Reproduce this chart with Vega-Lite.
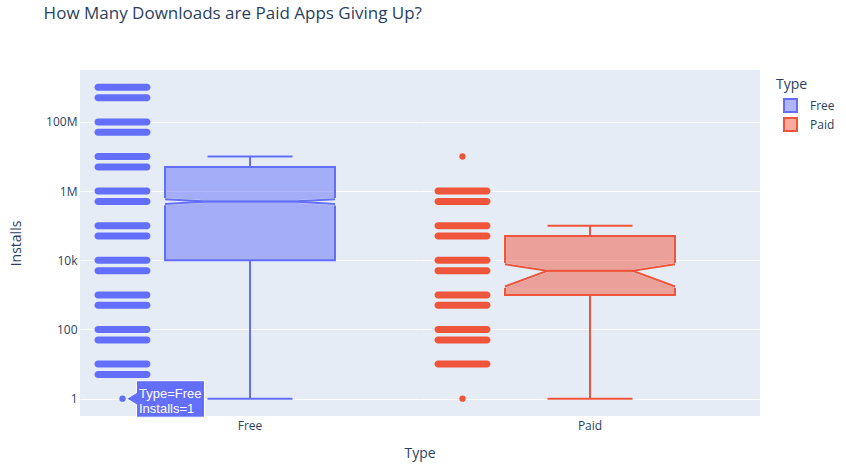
{
  "$schema": "https://vega.github.io/schema/vega-lite/v6.json",
  "padding": {"left": 9, "top": 5, "right": 0, "bottom": 5},
  "background": "white",
  "title": {
    "text": "How Many Downloads are Paid Apps Giving Up?",
    "anchor": "start",
    "frame": "bounds",
    "dx": 34,
    "offset": 47,
    "fontSize": 17,
    "fontWeight": "normal",
    "font": "Open Sans",
    "color": "#2a3f5f"
  },
  "data": {
    "values": [
      {"kind": "strip", "Type": "Free", "Installs": 5},
      {"kind": "strip", "Type": "Free", "Installs": 10},
      {"kind": "strip", "Type": "Free", "Installs": 50},
      {"kind": "strip", "Type": "Free", "Installs": 100},
      {"kind": "strip", "Type": "Free", "Installs": 500},
      {"kind": "strip", "Type": "Free", "Installs": 1000},
      {"kind": "strip", "Type": "Free", "Installs": 5000},
      {"kind": "strip", "Type": "Free", "Installs": 10000},
      {"kind": "strip", "Type": "Free", "Installs": 50000},
      {"kind": "strip", "Type": "Free", "Installs": 100000},
      {"kind": "strip", "Type": "Free", "Installs": 500000},
      {"kind": "strip", "Type": "Free", "Installs": 1000000},
      {"kind": "strip", "Type": "Free", "Installs": 5000000},
      {"kind": "strip", "Type": "Free", "Installs": 10000000},
      {"kind": "strip", "Type": "Free", "Installs": 50000000},
      {"kind": "strip", "Type": "Free", "Installs": 100000000},
      {"kind": "strip", "Type": "Free", "Installs": 500000000},
      {"kind": "strip", "Type": "Free", "Installs": 1000000000},
      {"kind": "strip", "Type": "Paid", "Installs": 10},
      {"kind": "strip", "Type": "Paid", "Installs": 50},
      {"kind": "strip", "Type": "Paid", "Installs": 100},
      {"kind": "strip", "Type": "Paid", "Installs": 500},
      {"kind": "strip", "Type": "Paid", "Installs": 1000},
      {"kind": "strip", "Type": "Paid", "Installs": 5000},
      {"kind": "strip", "Type": "Paid", "Installs": 10000},
      {"kind": "strip", "Type": "Paid", "Installs": 50000},
      {"kind": "strip", "Type": "Paid", "Installs": 100000},
      {"kind": "strip", "Type": "Paid", "Installs": 500000},
      {"kind": "strip", "Type": "Paid", "Installs": 1000000},
      {"kind": "single", "Type": "Free", "Installs": 1},
      {"kind": "single", "Type": "Paid", "Installs": 1},
      {"kind": "single", "Type": "Paid", "Installs": 10000000},
      {"kind": "stats", "Type": "Free", "lower": 1, "q1": 10000, "median": 500000, "q3": 5000000, "upper": 10000000},
      {"kind": "stats", "Type": "Paid", "lower": 1, "q1": 1000, "median": 5000, "q3": 50000, "upper": 100000},
      {"kind": "notch", "Type": "Free", "vertex": "outerL", "low": 422000, "high": 578000},
      {"kind": "notch", "Type": "Free", "vertex": "innerL", "low": 500000, "high": 500000},
      {"kind": "notch", "Type": "Free", "vertex": "innerR", "low": 500000, "high": 500000},
      {"kind": "notch", "Type": "Free", "vertex": "outerR", "low": 422000, "high": 578000},
      {"kind": "notch", "Type": "Paid", "vertex": "outerL", "low": 1750, "high": 7700},
      {"kind": "notch", "Type": "Paid", "vertex": "innerL", "low": 5000, "high": 5000},
      {"kind": "notch", "Type": "Paid", "vertex": "innerR", "low": 5000, "high": 5000},
      {"kind": "notch", "Type": "Paid", "vertex": "outerR", "low": 1750, "high": 7700}
    ]
  },
  "config": {
    "view": {"fill": "#E5ECF6", "stroke": null},
    "font": "Open Sans",
    "axisY": {
      "domain": false, "ticks": false, "grid": true, "gridColor": "#ffffff", "gridWidth": 1,
      "labelPadding": 3, "labelFontSize": 12, "labelColor": "#2a3f5f", "labelFont": "Open Sans",
      "titleFontSize": 14, "titleColor": "#2a3f5f", "titleFontWeight": "normal", "titleFont": "Open Sans",
      "titlePadding": 22
    },
    "legend": {
      "orient": "right", "offset": 8, "padding": 8,
      "symbolType": "square", "symbolSize": 169, "symbolOffset": 7, "symbolStrokeWidth": 2, "symbolOpacity": 1,
      "labelOffset": 12, "rowPadding": 0, "clipHeight": 19, "titlePadding": 4,
      "titleFontSize": 14, "titleFontWeight": "normal", "titleColor": "#2a3f5f", "titleFont": "Open Sans",
      "labelFontSize": 12, "labelColor": "#2a3f5f", "labelFont": "Open Sans"
    }
  },
  "spacing": 0,
  "facet": {
    "column": {
      "field": "Type", "type": "nominal", "title": "Type", "sort": ["Free", "Paid"],
      "header": {
        "labelOrient": "bottom", "titleOrient": "bottom",
        "labelFontSize": 12, "labelColor": "#2a3f5f", "labelFont": "Open Sans", "labelPadding": 1,
        "titleFontSize": 14, "titleColor": "#2a3f5f", "titleFontWeight": "normal", "titleFont": "Open Sans",
        "titlePadding": 5
      }
    }
  },
  "spec": {
    "width": 340,
    "height": 346,
    "layer": [
      {
        "transform": [{"filter": "datum.kind === 'stats'"}],
        "mark": {"type": "rect", "strokeWidth": 2},
        "encoding": {
          "x": {"datum": "outerL", "type": "nominal", "axis": null,
                "scale": {"type": "point", "domain": ["strip", "outerL", "innerL", "center", "innerR", "outerR", "pad"], "padding": 1.0816}},
          "x2": {"datum": "outerR"},
          "y": {"field": "q1", "type": "quantitative", "title": "Installs",
                "scale": {"type": "log", "domain": [0.3162, 3162000000], "nice": false, "zero": false},
                "axis": {"values": [1, 100, 10000, 1000000, 100000000], "format": "~s"}},
          "y2": {"field": "q3"},
          "fill": {"field": "Type", "type": "nominal", "title": "Type",
                   "scale": {"domain": ["Free", "Paid"], "range": ["rgba(99,110,250,0.5)", "rgba(239,85,59,0.5)"]}},
          "stroke": {"field": "Type", "type": "nominal", "title": "Type",
                     "scale": {"domain": ["Free", "Paid"], "range": ["#636EFA", "#EF553B"]}}
        }
      },
      {
        "transform": [{"filter": "datum.kind === 'notch'"}],
        "mark": {"type": "area", "orient": "vertical", "fill": "#E5ECF6", "stroke": "#E5ECF6", "strokeWidth": 2.5, "opacity": 1},
        "encoding": {
          "x": {"field": "vertex", "type": "nominal"},
          "y": {"field": "low", "type": "quantitative", "title": "Installs"},
          "y2": {"field": "high"},
          "order": {"value": null}
        }
      },
      {
        "transform": [{"filter": "datum.kind === 'notch'"}],
        "mark": {"type": "line", "strokeWidth": 2},
        "encoding": {
          "x": {"field": "vertex", "type": "nominal"},
          "y": {"field": "low", "type": "quantitative", "title": "Installs"},
          "stroke": {"field": "Type", "type": "nominal", "title": "Type"},
          "order": {"value": null}
        }
      },
      {
        "transform": [{"filter": "datum.kind === 'notch'"}],
        "mark": {"type": "line", "strokeWidth": 2},
        "encoding": {
          "x": {"field": "vertex", "type": "nominal"},
          "y": {"field": "high", "type": "quantitative", "title": "Installs"},
          "stroke": {"field": "Type", "type": "nominal", "title": "Type"},
          "order": {"value": null}
        }
      },
      {
        "transform": [{"filter": "datum.kind === 'stats'"}],
        "mark": {"type": "rule", "strokeWidth": 2},
        "encoding": {
          "x": {"datum": "center", "type": "nominal"},
          "y": {"field": "q3", "type": "quantitative", "title": "Installs"},
          "y2": {"field": "upper"},
          "stroke": {"field": "Type", "type": "nominal", "title": "Type"}
        }
      },
      {
        "transform": [{"filter": "datum.kind === 'stats'"}],
        "mark": {"type": "rule", "strokeWidth": 2},
        "encoding": {
          "x": {"datum": "center", "type": "nominal"},
          "y": {"field": "lower", "type": "quantitative", "title": "Installs"},
          "y2": {"field": "q1"},
          "stroke": {"field": "Type", "type": "nominal", "title": "Type"}
        }
      },
      {
        "transform": [{"filter": "datum.kind === 'stats'"}],
        "mark": {"type": "rule", "strokeWidth": 2},
        "encoding": {
          "x": {"datum": "innerL", "type": "nominal"},
          "x2": {"datum": "innerR"},
          "y": {"field": "upper", "type": "quantitative", "title": "Installs"},
          "stroke": {"field": "Type", "type": "nominal", "title": "Type"}
        }
      },
      {
        "transform": [{"filter": "datum.kind === 'stats'"}],
        "mark": {"type": "rule", "strokeWidth": 2},
        "encoding": {
          "x": {"datum": "innerL", "type": "nominal"},
          "x2": {"datum": "innerR"},
          "y": {"field": "lower", "type": "quantitative", "title": "Installs"},
          "stroke": {"field": "Type", "type": "nominal", "title": "Type"}
        }
      },
      {
        "transform": [{"filter": "datum.kind === 'strip' && datum.Type === 'Free'"}],
        "mark": {"type": "tick", "orient": "horizontal", "size": 56, "thickness": 7, "cornerRadius": 3.5, "opacity": 1, "color": "#636EFA"},
        "encoding": {
          "x": {"datum": "strip", "type": "nominal"},
          "y": {"field": "Installs", "type": "quantitative", "title": "Installs"}
        }
      },
      {
        "transform": [{"filter": "datum.kind === 'strip' && datum.Type === 'Paid'"}],
        "mark": {"type": "tick", "orient": "horizontal", "size": 56, "thickness": 7, "cornerRadius": 3.5, "opacity": 1, "color": "#EF553B"},
        "encoding": {
          "x": {"datum": "strip", "type": "nominal"},
          "y": {"field": "Installs", "type": "quantitative", "title": "Installs"}
        }
      },
      {
        "transform": [{"filter": "datum.kind === 'single' && datum.Type === 'Free'"}],
        "mark": {"type": "point", "shape": "circle", "filled": true, "size": 40, "opacity": 1, "color": "#636EFA"},
        "encoding": {
          "x": {"datum": "strip", "type": "nominal"},
          "y": {"field": "Installs", "type": "quantitative", "title": "Installs"}
        }
      },
      {
        "transform": [{"filter": "datum.kind === 'single' && datum.Type === 'Paid'"}],
        "mark": {"type": "point", "shape": "circle", "filled": true, "size": 40, "opacity": 1, "color": "#EF553B"},
        "encoding": {
          "x": {"datum": "strip", "type": "nominal"},
          "y": {"field": "Installs", "type": "quantitative", "title": "Installs"}
        }
      },
      {
        "transform": [{"filter": "datum.kind === 'single' && datum.Type === 'Free' && datum.Installs === 1"}],
        "mark": {"type": "point", "filled": true, "opacity": 1, "size": 4624, "fill": "#636EFA", "stroke": "#ffffff", "strokeWidth": 1,
                 "shape": "M0.118,0L0.412,-0.176L0.412,-0.529L2.412,-0.529L2.412,0.544L0.412,0.544L0.412,0.176Z"},
        "encoding": {
          "x": {"datum": "strip", "type": "nominal"},
          "y": {"field": "Installs", "type": "quantitative", "title": "Installs"}
        }
      },
      {
        "transform": [{"filter": "datum.kind === 'single' && datum.Type === 'Free' && datum.Installs === 1"}],
        "mark": {"type": "text", "text": ["Type=Free", "Installs=1"], "align": "left", "baseline": "middle",
                 "dx": 16.5, "dy": -5, "lineHeight": 15.3, "font": "Liberation Sans", "fontSize": 13, "fill": "#ffffff"},
        "encoding": {
          "x": {"datum": "strip", "type": "nominal"},
          "y": {"field": "Installs", "type": "quantitative", "title": "Installs"}
        }
      }
    ]
  }
}
